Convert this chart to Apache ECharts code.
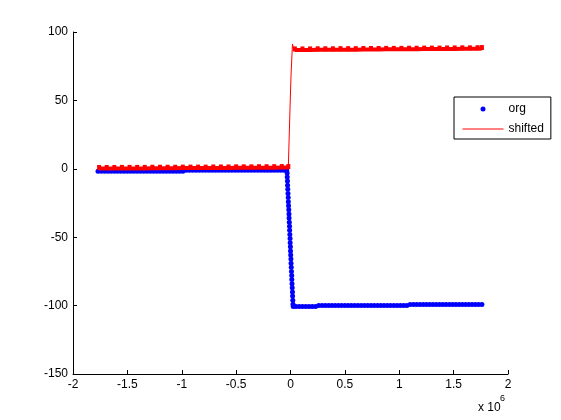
<!DOCTYPE html>
<html>
<head>
<meta charset="utf-8">
<script src="https://cdn.jsdelivr.net/npm/echarts@6/dist/echarts.min.js"></script>
<style>
html,body{margin:0;padding:0;background:#fff;}
#chart{width:561px;height:420px;}
</style>
</head>
<body>
<div id="chart"></div>
<script>
// x values are stored in thousands (x 10^3); the axis shows x 10^6
// ---- series "org" (blue dots) ----
const orgLeftX = [-1770,-1740,-1710,-1680,-1650,-1620,-1590,-1560,-1530,-1500,-1470,-1440,-1410,-1380,-1350,-1320,-1290,-1260,-1230,-1200,-1170,-1140,-1110,-1080,-1050,-1020,-990,-960,-930,-900,-870,-840,-810,-780,-750,-720,-690,-660,-630,-600,-570,-540,-510,-480,-450,-420,-390,-360,-330,-300,-270,-240,-210,-180,-150,-120,-90,-60,-35];
const orgLeftY = [-1.8,-1.8,-1.8,-1.8,-1.8,-1.8,-1.8,-1.8,-1.8,-1.8,-1.8,-1.8,-1.8,-1.8,-1.8,-1.8,-1.8,-1.8,-1.8,-1.8,-1.8,-1.8,-1.8,-1.8,-1.8,-1.8,-1.8,-1.0,-1.0,-1.0,-1.0,-1.0,-1.0,-1.0,-1.0,-1.0,-1.0,-1.0,-1.0,-1.0,-1.0,-1.0,-1.0,-1.0,-1.0,-1.0,-1.0,-1.0,-1.0,-1.0,-1.0,-1.0,-1.0,-1.0,-1.0,-1.0,-1.0,-1.0,-1.0];
const orgDropX = [-31,-30,-28,-27,-25,-23,-21,-20,-18,-16,-14,-13,-11,-9,-8,-6,-4,-3,-1,0,2,4,5,7,9,11,12,14,16,18,19,21,23];
const orgDropY = [-3,-6,-9,-12,-15,-18,-21,-24,-27,-30,-33,-36,-39,-42,-45,-48,-51,-54,-57,-60,-63,-66,-69,-72,-75,-78,-81,-84,-87,-90,-93,-96,-99];
const orgRightX = [25,50,80,110,140,170,200,230,260,290,320,350,380,410,440,470,500,530,560,590,620,650,680,710,740,770,800,830,860,890,920,950,980,1010,1040,1070,1100,1130,1160,1190,1220,1250,1280,1310,1340,1370,1400,1430,1460,1490,1520,1550,1580,1610,1640,1670,1700,1730,1760];
const orgRightY = [-100.6,-100.6,-100.6,-100.6,-100.6,-100.6,-100.6,-100.6,-99.9,-99.9,-99.9,-99.9,-99.9,-99.9,-99.9,-99.9,-99.9,-99.9,-99.9,-99.9,-99.9,-99.9,-99.9,-99.9,-99.9,-99.9,-99.9,-99.9,-99.9,-99.9,-99.9,-99.9,-99.9,-99.9,-99.9,-99.9,-99.2,-99.2,-99.2,-99.2,-99.2,-99.2,-99.2,-99.2,-99.2,-99.2,-99.2,-99.2,-99.2,-99.2,-99.2,-99.2,-99.2,-99.2,-99.2,-99.2,-99.2,-99.2,-99.2];
// ---- series "shifted" (red line) ----
const shiftLeftX = [-1760,-1690,-1620,-1550,-1480,-1410,-1340,-1270,-1200,-1130,-1060,-990,-920,-850,-780,-710,-640,-570,-500,-430,-360,-290,-220,-150,-80,-20];
const shiftLeftY = [0.2,0.2,0.2,0.3,0.3,0.3,0.3,0.4,0.4,0.4,0.4,0.5,0.5,0.5,0.5,0.6,0.6,0.6,0.7,0.7,0.7,0.8,0.8,0.8,0.9,0.9];
const shiftJumpX = [-9,-5,5,18,30];
const shiftJumpY = [0.6,43,68.6,91.2,87];
const shiftRightX = [40,110,180,250,320,390,460,530,600,670,740,810,880,950,1020,1090,1160,1230,1300,1370,1440,1510,1580,1650,1720,1760];
const shiftRightY = [86.9,86.9,86.9,87.0,87.0,87.0,87.1,87.1,87.1,87.2,87.2,87.2,87.3,87.3,87.3,87.4,87.4,87.5,87.5,87.5,87.6,87.6,87.7,87.7,87.8,87.9];
// ---- axes ----
const xTicks = [-2,-1.5,-1,-0.5,0,0.5,1,1.5,2];       // x 10^6
const yTicks = [-150,-100,-50,0,50,100];

function pts(xs, ys){ return xs.map((x,i)=>[x*1000, ys[i]]); }

const orgData = pts(orgLeftX, orgLeftY).concat(pts(orgDropX, orgDropY), pts(orgRightX, orgRightY));
const shiftAll = pts(shiftLeftX, shiftLeftY).concat(pts(shiftJumpX, shiftJumpY), pts(shiftRightX, shiftRightY));
const shiftLeft = pts(shiftLeftX, shiftLeftY);
const shiftRight = pts(shiftRightX, shiftRightY);

const FONT = 'Liberation Sans, Arial, Helvetica, sans-serif';
const chart = echarts.init(document.getElementById('chart'), null, {renderer:'canvas'});
chart.setOption({
  animation:false,
  backgroundColor:'#fff',
  textStyle:{fontFamily:FONT},
  grid:{left:73,right:53,top:32,bottom:46,containLabel:false,outerBoundsMode:'none'},
  xAxis:{
    type:'value', min:xTicks[0]*1e6, max:xTicks[xTicks.length-1]*1e6, interval:0.5e6,
    axisLine:{show:true,onZero:false,lineStyle:{color:'#000',width:1}},
    axisTick:{show:true,inside:true,length:4,lineStyle:{color:'#000'}},
    axisLabel:{color:'#000',fontSize:12,fontFamily:FONT,margin:5,formatter:v=>String(v/1e6)},
    splitLine:{show:false}
  },
  yAxis:{
    type:'value', min:yTicks[0], max:yTicks[yTicks.length-1], interval:50,
    axisLine:{show:true,onZero:false,lineStyle:{color:'#000',width:1}},
    axisTick:{show:true,inside:true,length:4,lineStyle:{color:'#000'}},
    axisLabel:{color:'#000',fontSize:12,fontFamily:FONT,margin:5},
    splitLine:{show:false}
  },
  legend:{
    left:454, top:97, orient:'vertical',
    padding:[5,7,3,8], itemGap:6, itemWidth:41, itemHeight:5,
    borderColor:'#000', borderWidth:1, backgroundColor:'#fff',
    textStyle:{color:'#000',fontSize:12,fontFamily:FONT,lineHeight:14},
    data:[
      {name:'org', itemStyle:{opacity:1}},
      {name:'shifted', itemStyle:{opacity:0}, lineStyle:{width:1,color:'#ff0000'}}
    ]
  },
  series:[
    {
      name:'org', type:'scatter', data:orgData,
      symbol:'circle', symbolSize:5,
      itemStyle:{color:'#0000ff',opacity:1}
    },
    {
      name:'shifted', type:'line', data:shiftAll,
      symbol:'none', showSymbol:false,
      lineStyle:{color:'#ff0000',width:1}, itemStyle:{color:'#ff0000'}
    },
    {
      name:'shifted', type:'line', data:shiftLeft,
      symbol:'rect', symbolSize:[4,5], symbolOffset:[0,-1],
      lineStyle:{color:'#ff0000',width:4}, itemStyle:{color:'#ff0000'}
    },
    {
      name:'shifted', type:'line', data:shiftRight,
      symbol:'rect', symbolSize:[4,5], symbolOffset:[0,-1],
      lineStyle:{color:'#ff0000',width:4}, itemStyle:{color:'#ff0000'}
    }
  ],
  graphic:[
    {type:'text', left:478, top:402, style:{text:'x 10', fontSize:12, fontFamily:FONT, fill:'#000'}},
    {type:'text', left:500, top:394, style:{text:'6', fontSize:9, fontFamily:FONT, fill:'#000'}}
  ]
});
</script>
</body>
</html>
